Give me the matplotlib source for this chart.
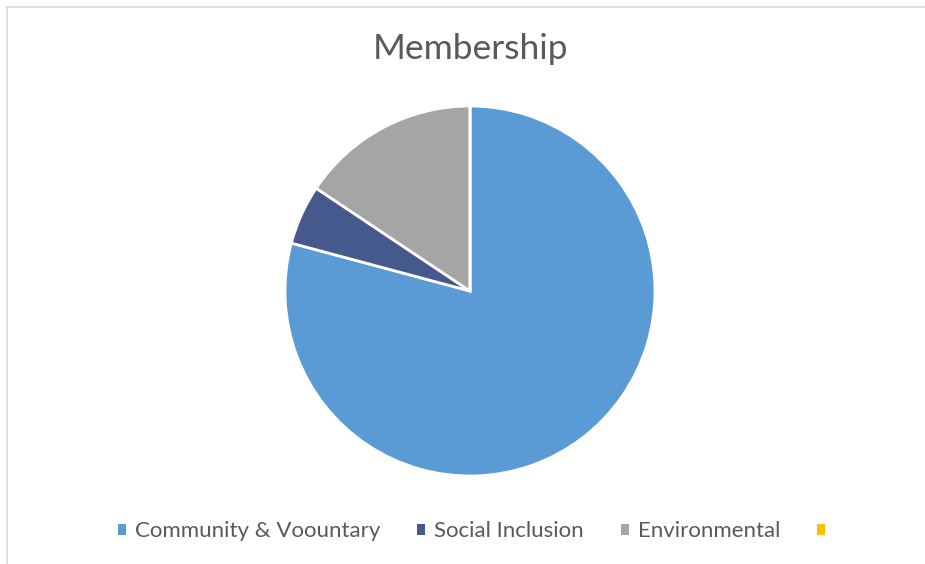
import matplotlib
matplotlib.use('Agg')
import matplotlib.pyplot as plt
from matplotlib.lines import Line2D
from matplotlib.patches import Patch

# Membership split (counts)
labels = ['Community & Voountary', 'Social Inclusion', 'Environmental', '']
values = [76, 5, 15, 0]
colors = ['#5B9BD5', '#46598C', '#A5A5A5', '#FFC000']

W, H = 925, 564
fig = plt.figure(figsize=(W / 100, H / 100), dpi=100)
plt.rcParams['font.family'] = ['Lato', 'DejaVu Sans']

# thin grey frame (top and left edges visible)
fig.add_artist(Line2D([7 / W, 1], [1 - 6.5 / H, 1 - 6.5 / H], color='#D9D9D9', lw=1.2))
fig.add_artist(Line2D([7 / W, 7 / W], [0, 1 - 6.5 / H], color='#D9D9D9', lw=1.2))

cx, cy, r = 470, 291, 185
ax = fig.add_axes([(cx - r) / W, (H - cy - r) / H, 2 * r / W, 2 * r / H])
wedges, _ = ax.pie(values, colors=colors, startangle=90, counterclock=False,
                   wedgeprops=dict(edgecolor='white', linewidth=2))
ax.set_xlim(-1, 1)
ax.set_ylim(-1, 1)
ax.set_aspect('equal')

fig.text(470 / W, 1 - 49 / H, 'Membership', ha='center', va='center',
         fontsize=25.5, color='#595959')

handles = [Patch(facecolor=c, edgecolor='none') for c in colors]
fig.legend(handles, labels, loc='center', bbox_to_anchor=(476 / W, 1 - 531 / H),
           ncol=4, frameon=False, fontsize=16, labelcolor='#595959',
           handlelength=0.38, handleheight=0.38, handletextpad=0.4, columnspacing=1.65)

fig.savefig('out.png', dpi=100)
